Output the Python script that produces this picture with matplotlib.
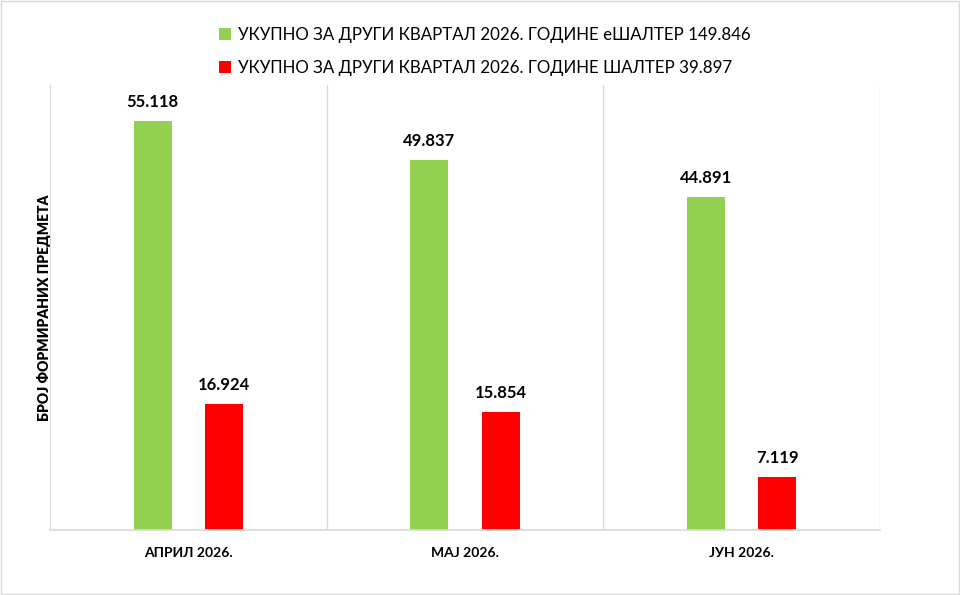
import matplotlib
matplotlib.use("Agg")
import matplotlib.pyplot as plt
from matplotlib.patches import Rectangle
import numpy as np

plt.rcParams['font.family'] = ['Lato', 'DejaVu Sans']

categories = ["АПРИЛ 2026.", "МАЈ 2026.", "ЈУН 2026."]
eshalter = [55118, 49837, 44891]
shalter = [16924, 15854, 7119]
eshalter_labels = ["55.118", "49.837", "44.891"]
shalter_labels = ["16.924", "15.854", "7.119"]
legend_labels = ["УКУПНО ЗА ДРУГИ КВАРТАЛ 2026. ГОДИНЕ еШАЛТЕР 149.846",
                 "УКУПНО ЗА ДРУГИ КВАРТАЛ 2026. ГОДИНЕ ШАЛТЕР 39.897"]
y_label = "БРОЈ ФОРМИРАНИХ ПРЕДМЕТА"

green = "#92D050"
red = "#FF0000"

fig = plt.figure(figsize=(9.6, 5.95), dpi=100)
ax = fig.add_axes([50/960, 65/595, 830/960, 445/595])

x = np.arange(len(categories))
w = 0.137
off = 0.129
b1 = ax.bar(x - off, eshalter, w, color=green, label=legend_labels[0])
b2 = ax.bar(x + off, shalter, w, color=red, label=legend_labels[1])

for bars, labs in ((b1, eshalter_labels), (b2, shalter_labels)):
    for r, t in zip(bars, labs):
        ax.annotate(t, (r.get_x() + r.get_width()/2, r.get_height()),
                    xytext=(0, 8), textcoords="offset points",
                    ha="center", va="bottom", fontsize=12, fontweight="bold",
                    color="#000000")

ax.set_xlim(-0.5, len(categories) - 0.5)
ax.set_ylim(0, 60000)
ax.set_yticks([])
ax.set_xticks(x)
ax.set_xticklabels(categories, fontsize=10, fontweight="bold")
ax.tick_params(axis="x", length=0, pad=12)
for xb in np.arange(0.5, len(categories), 1.0):
    ax.axvline(xb, color="#D9D9D9", lw=1, zorder=0)
for s in ["top", "right"]:
    ax.spines[s].set_visible(False)
ax.spines["left"].set_color("#D9D9D9")
ax.spines["bottom"].set_color("#D9D9D9")
ax.spines["bottom"].set_linewidth(1.2)

ax.set_ylabel(y_label, fontsize=10, fontweight="heavy", labelpad=-1)

leg = fig.legend(loc="upper center", bbox_to_anchor=(0.505, 0.98), ncol=1,
                 frameon=False, fontsize=12.2, handlelength=0.7, handleheight=0.7,
                 handletextpad=0.4, labelspacing=1.0)

fig.patches.append(Rectangle((0.001, 0.001), 0.998, 0.998, transform=fig.transFigure,
                             fill=False, edgecolor="#D9D9D9", lw=1))

fig.savefig("out.png", dpi=100)
